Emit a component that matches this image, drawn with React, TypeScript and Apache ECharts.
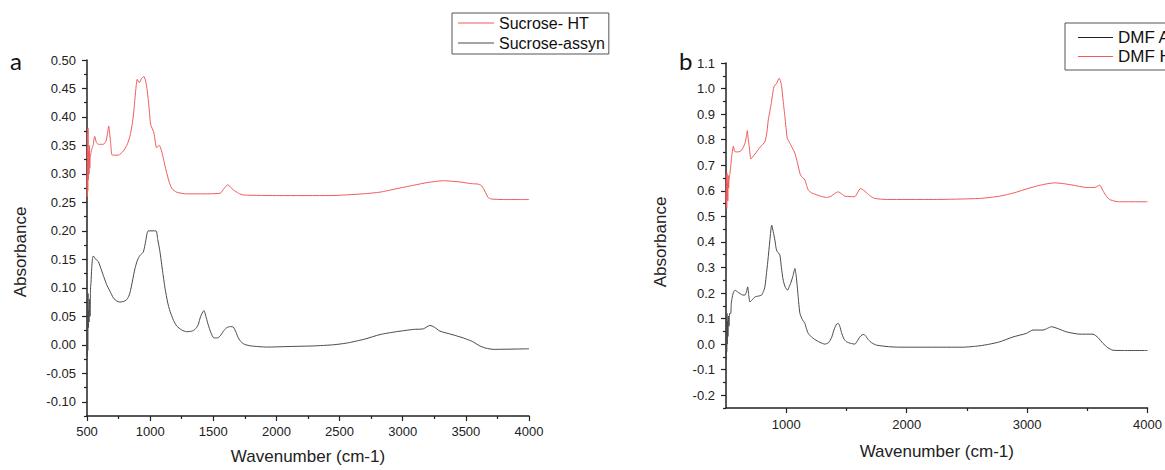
import React, { useEffect, useRef } from "react";
import * as echarts from "echarts";

// ---- Data: panel a (Sucrose) ----
const sucroseHT: [number, number][] = [
  [500,0.30],[502,0.26],[504,0.37],[506,0.27],[508,0.38],[510,0.29],[513,0.34],[516,0.30],[519,0.35],[522,0.31],[526,0.33],[531,0.33],[537,0.343],[548,0.35],[561,0.366],[575,0.355],[590,0.352],[629,0.352],[651,0.358],[665,0.375],[672,0.384],[680,0.37],[687,0.355],[700,0.333],[748,0.333],[787,0.340],[815,0.350],[840,0.366],[860,0.39],[872,0.413],[885,0.445],[898,0.466],[914,0.460],[933,0.468],[951,0.471],[962,0.465],[972,0.454],[983,0.435],[993,0.413],[1004,0.387],[1030,0.372],[1051,0.346],[1072,0.350],[1091,0.340],[1118,0.314],[1144,0.291],[1170,0.275],[1210,0.268],[1289,0.265],[1400,0.265],[1553,0.266],[1584,0.274],[1614,0.281],[1635,0.277],[1659,0.272],[1700,0.266],[1738,0.263],[2028,0.262],[2424,0.262],[2685,0.265],[2820,0.268],[2950,0.274],[3084,0.280],[3200,0.285],[3321,0.288],[3450,0.286],[3540,0.283],[3600,0.282],[3625,0.279],[3650,0.27],[3675,0.259],[3700,0.256],[3800,0.255],[4000,0.255]
];
const sucroseAssyn: [number, number][] = [
  [500,0.02],[502,-0.02],[504,0.08],[506,-0.01],[508,0.09],[510,0.03],[513,0.06],[516,0.04],[520,0.08],[524,0.05],[528,0.10],[532,0.11],[537,0.134],[543,0.15],[550,0.156],[560,0.153],[575,0.149],[590,0.146],[610,0.134],[629,0.122],[655,0.106],[682,0.094],[710,0.082],[735,0.077],[760,0.075],[787,0.076],[813,0.079],[828,0.084],[840,0.091],[860,0.112],[880,0.134],[900,0.149],[920,0.157],[946,0.163],[965,0.182],[985,0.200],[1046,0.200],[1060,0.185],[1078,0.163],[1098,0.13],[1118,0.099],[1138,0.075],[1157,0.059],[1185,0.043],[1210,0.033],[1250,0.026],[1289,0.023],[1330,0.024],[1355,0.027],[1380,0.035],[1400,0.05],[1426,0.060],[1445,0.047],[1460,0.035],[1480,0.022],[1505,0.012],[1530,0.012],[1553,0.015],[1580,0.024],[1606,0.030],[1635,0.032],[1659,0.031],[1680,0.022],[1698,0.012],[1725,0.004],[1751,0.0005],[1800,-0.002],[1923,-0.004],[2100,-0.003],[2292,-0.002],[2450,0.0],[2556,0.003],[2700,0.01],[2820,0.018],[2950,0.023],[3084,0.027],[3163,0.028],[3216,0.034],[3250,0.031],[3295,0.024],[3390,0.018],[3480,0.012],[3550,0.006],[3611,-0.002],[3660,-0.006],[3720,-0.008],[4000,-0.007]
];

// ---- Data: panel b (DMF) ----
const dmfHT: [number, number][] = [
  [500,0.60],[502,0.55],[504,0.66],[506,0.53],[508,0.67],[510,0.58],[512,0.63],[515,0.56],[518,0.66],[522,0.61],[526,0.65],[533,0.668],[540,0.70],[547,0.733],[555,0.76],[561,0.775],[568,0.76],[575,0.753],[600,0.752],[630,0.759],[658,0.786],[670,0.815],[677,0.835],[685,0.80],[693,0.772],[707,0.724],[720,0.732],[741,0.744],[782,0.770],[823,0.792],[840,0.83],[851,0.877],[875,0.94],[898,1.007],[920,1.020],[942,1.040],[952,1.03],[962,1.007],[975,0.95],[989,0.890],[1009,0.805],[1031,0.786],[1050,0.768],[1072,0.747],[1093,0.71],[1114,0.668],[1128,0.655],[1140,0.65],[1155,0.642],[1170,0.62],[1183,0.603],[1210,0.592],[1238,0.587],[1290,0.578],[1335,0.574],[1370,0.578],[1400,0.588],[1431,0.596],[1460,0.588],[1487,0.579],[1530,0.577],[1570,0.577],[1595,0.595],[1617,0.609],[1640,0.603],[1667,0.592],[1700,0.579],[1736,0.570],[1833,0.566],[2220,0.566],[2607,0.570],[2773,0.579],[2900,0.593],[2966,0.603],[3077,0.618],[3150,0.626],[3229,0.631],[3300,0.628],[3381,0.622],[3492,0.613],[3561,0.613],[3585,0.618],[3602,0.622],[3635,0.596],[3660,0.578],[3685,0.566],[3730,0.559],[3768,0.557],[4000,0.557]
];
const dmfAssyn: [number, number][] = [
  [500,0.02],[502,-0.06],[504,0.10],[506,-0.03],[508,0.12],[510,0.0],[513,0.09],[516,0.03],[520,0.11],[525,0.07],[530,0.12],[539,0.120],[544,0.16],[550,0.179],[560,0.20],[575,0.211],[595,0.205],[616,0.198],[640,0.192],[658,0.192],[670,0.205],[680,0.224],[689,0.19],[699,0.165],[715,0.172],[741,0.185],[770,0.188],[796,0.192],[810,0.205],[823,0.224],[837,0.28],[851,0.342],[865,0.41],[879,0.466],[892,0.44],[906,0.407],[916,0.375],[926,0.361],[937,0.356],[948,0.348],[960,0.30],[975,0.250],[993,0.222],[1012,0.211],[1025,0.225],[1036,0.237],[1055,0.265],[1072,0.296],[1082,0.27],[1092,0.224],[1103,0.165],[1114,0.120],[1135,0.095],[1155,0.081],[1168,0.06],[1183,0.042],[1210,0.028],[1238,0.018],[1280,0.007],[1321,0.0],[1350,0.005],[1376,0.025],[1400,0.06],[1418,0.078],[1431,0.081],[1445,0.07],[1459,0.045],[1480,0.02],[1501,0.009],[1535,0.003],[1570,0.0],[1590,0.012],[1611,0.028],[1630,0.036],[1645,0.038],[1660,0.032],[1680,0.018],[1710,0.005],[1750,-0.004],[1850,-0.01],[1943,-0.012],[2200,-0.012],[2468,-0.012],[2600,-0.007],[2690,0.0],[2773,0.009],[2883,0.028],[2994,0.042],[3049,0.055],[3132,0.055],[3170,0.062],[3202,0.068],[3260,0.06],[3326,0.048],[3436,0.039],[3547,0.039],[3590,0.025],[3630,0.003],[3670,-0.014],[3713,-0.024],[3800,-0.025],[4000,-0.025]
];

// ---- Tick values ----
const aYMajor = [-0.1,-0.05,0,0.05,0.1,0.15,0.2,0.25,0.3,0.35,0.4,0.45,0.5];
const aYMinor = [-0.125,-0.075,-0.025,0.025,0.075,0.125,0.175,0.225,0.275,0.325,0.375,0.425,0.475];
const bYMajor = [-0.2,-0.1,0,0.1,0.2,0.3,0.4,0.5,0.6,0.7,0.8,0.9,1.0,1.1];
const bYMinor = [-0.25,-0.15,-0.05,0.05,0.15,0.25,0.35,0.45,0.55,0.65,0.75,0.85,0.95,1.05];
const bXMajor = [1000,2000,3000,4000];
const bXMinor = [1500,2500,3500];

const RED = "#f05a5a";
const DARK = "#4a4a4a";
const AX = "#222";
const FONT = "Liberation Sans";

export default function App() {
  const ref = useRef<HTMLDivElement>(null);
  useEffect(() => {
    document.body.style.margin = "0";
    const chart = echarts.init(ref.current!, undefined, { renderer: "svg" });
    const lbl = { fontSize: 13, color: AX, fontFamily: FONT };
    const axLine = { show: true, onZero: false, lineStyle: { color: AX, width: 1.5 } };
    const tickStyle = { color: AX, width: 1.2 };
    const xFmt = (v: number) => String(v);
    const option: any = {
      animation: false,
      backgroundColor: "#ffffff",
      textStyle: { fontFamily: FONT },
      grid: [
        { left: 87, top: 60, width: 442, height: 359 },
        { left: 726, top: 63, width: 422, height: 345 },
      ],
      xAxis: [
        {
          type: "value", gridIndex: 0, position: "bottom", min: 500, max: 4000, interval: 500,
          axisLine: axLine, splitLine: { show: false },
          axisTick: { show: true, length: 5, lineStyle: tickStyle },
          minorTick: { show: true, splitNumber: 2, length: 3, lineStyle: tickStyle },
          axisLabel: { ...lbl, margin: 9, formatter: xFmt },
          name: "Wavenumber (cm-1)", nameLocation: "middle", nameGap: 32,
          nameTextStyle: { fontSize: 17, color: AX, fontFamily: FONT },
        },
        {
          type: "value", gridIndex: 1, position: "bottom", min: 500, max: 4000,
          axisLine: axLine, splitLine: { show: false },
          axisTick: { show: true, length: 5, lineStyle: tickStyle, customValues: bXMajor },
          axisLabel: { ...lbl, margin: 10, customValues: bXMajor, formatter: xFmt },
          name: "Wavenumber (cm-1)", nameLocation: "middle", nameGap: 35,
          nameTextStyle: { fontSize: 17, color: AX, fontFamily: FONT },
        },
        {
          type: "value", gridIndex: 1, position: "bottom", min: 500, max: 4000,
          axisLine: { show: false, onZero: false }, splitLine: { show: false },
          axisTick: { show: true, length: 3, lineStyle: tickStyle, customValues: bXMinor },
          axisLabel: { show: false },
        },
      ],
      yAxis: [
        {
          type: "value", gridIndex: 0, position: "left", min: -0.125, max: 0.5,
          axisLine: axLine, splitLine: { show: false },
          axisTick: { show: true, length: 5, lineStyle: tickStyle, customValues: aYMajor },
          axisLabel: { ...lbl, margin: 11, customValues: aYMajor, formatter: (v: number) => v.toFixed(2) },
        },
        {
          type: "value", gridIndex: 1, position: "left", min: -0.25, max: 1.1,
          axisLine: axLine, splitLine: { show: false },
          axisTick: { show: true, length: 5, lineStyle: tickStyle, customValues: bYMajor },
          axisLabel: { ...lbl, margin: 11, customValues: bYMajor, formatter: (v: number) => v.toFixed(1) },
        },
        {
          type: "value", gridIndex: 0, position: "left", min: -0.125, max: 0.5,
          axisLine: { show: false, onZero: false }, splitLine: { show: false },
          axisTick: { show: true, length: 3, lineStyle: tickStyle, customValues: aYMinor },
          axisLabel: { show: false },
        },
        {
          type: "value", gridIndex: 1, position: "left", min: -0.25, max: 1.1,
          axisLine: { show: false, onZero: false }, splitLine: { show: false },
          axisTick: { show: true, length: 3, lineStyle: tickStyle, customValues: bYMinor },
          axisLabel: { show: false },
        },
      ],
      legend: [
        {
          data: ["Sucrose- HT", "Sucrose-assyn"], orient: "vertical", left: 452, top: 13,
          icon: "rect", itemWidth: 36, itemHeight: 1, itemGap: 2,
          borderColor: "#555", borderWidth: 1, borderRadius: 0, backgroundColor: "#fff",
          padding: [1, 4, 2, 6],
          textStyle: { fontSize: 16, lineHeight: 18, color: "#111", fontFamily: FONT },
        },
        {
          data: ["DMF Assyn", "DMF HT"], orient: "vertical", left: 1065, top: 23,
          icon: "rect", itemWidth: 35, itemHeight: 1, itemGap: 2,
          borderColor: "#555", borderWidth: 1, borderRadius: 0, backgroundColor: "#fff",
          padding: [6, 5, 5, 13],
          textStyle: { fontSize: 17, lineHeight: 17, color: "#111", fontFamily: FONT },
        },
      ],
      graphic: [
        { type: "text", left: 10, top: 48, style: { text: "a", fontSize: 24, fontFamily: "Lato", fill: "#111" } },
        { type: "text", left: 679, top: 48, style: { text: "b", fontSize: 24, fontFamily: "Lato", fill: "#111" } },
        { type: "text", x: 20, y: 252, rotation: Math.PI / 2, style: { text: "Absorbance", fontSize: 17, fontFamily: FONT, fill: AX, align: "center", verticalAlign: "middle" } },
        { type: "text", x: 660, y: 242, rotation: Math.PI / 2, style: { text: "Absorbance", fontSize: 17, fontFamily: FONT, fill: AX, align: "center", verticalAlign: "middle" } },
      ],
      series: [
        { name: "Sucrose- HT", type: "line", xAxisIndex: 0, yAxisIndex: 0, data: sucroseHT, showSymbol: false, smooth: 0.2, lineStyle: { color: RED, width: 1 }, itemStyle: { color: RED } },
        { name: "Sucrose-assyn", type: "line", xAxisIndex: 0, yAxisIndex: 0, data: sucroseAssyn, showSymbol: false, smooth: 0.2, lineStyle: { color: DARK, width: 1 }, itemStyle: { color: DARK } },
        { name: "DMF Assyn", type: "line", xAxisIndex: 1, yAxisIndex: 1, data: dmfAssyn, showSymbol: false, smooth: 0.2, lineStyle: { color: DARK, width: 1 }, itemStyle: { color: "#222" } },
        { name: "DMF HT", type: "line", xAxisIndex: 1, yAxisIndex: 1, data: dmfHT, showSymbol: false, smooth: 0.2, lineStyle: { color: RED, width: 1 }, itemStyle: { color: RED } },
      ],
    };
    chart.setOption(option);
    return () => chart.dispose();
  }, []);
  return <div ref={ref} style={{ width: 1165, height: 470 }} />;
}
